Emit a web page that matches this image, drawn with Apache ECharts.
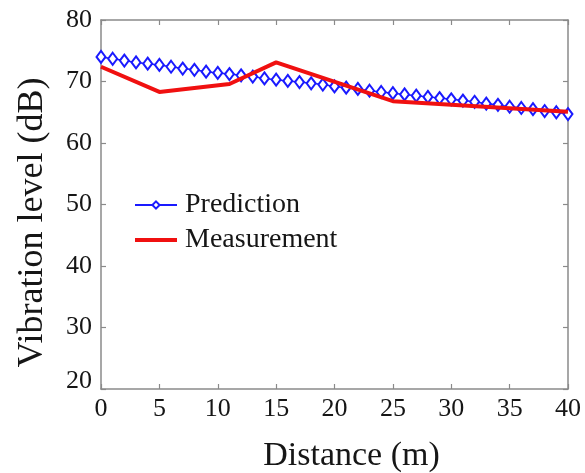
<!DOCTYPE html>
<html>
<head>
<meta charset="utf-8">
<script src="https://cdn.jsdelivr.net/npm/echarts@6/dist/echarts.min.js"></script>
<style>
  html, body { margin: 0; padding: 0; background: #fff; }
  #chart { width: 585px; height: 473px; }
</style>
</head>
<body>
<div id="chart"></div>
<script>
// Distance along the track (m)
const predictionDistance = [0, 1, 2, 3, 4, 5, 6, 7, 8, 9, 10, 11, 12, 13, 14, 15, 16, 17, 18, 19, 20,
  21, 22, 23, 24, 25, 26, 27, 28, 29, 30, 31, 32, 33, 34, 35, 36, 37, 38, 39, 40];
// Predicted vibration level (dB)
const predictionLevel = [74.0, 73.7, 73.4, 73.1, 72.9, 72.7, 72.4, 72.1, 71.9, 71.6, 71.4,
  71.2, 71.0, 70.8, 70.5, 70.3, 70.1, 69.9, 69.7, 69.5, 69.2,
  69.0, 68.8, 68.5, 68.3, 68.1, 67.9, 67.7, 67.5, 67.3, 67.1,
  66.9, 66.7, 66.4, 66.2, 65.9, 65.7, 65.5, 65.2, 65.0, 64.7];
// Measured vibration level (dB)
const measurementDistance = [0, 5, 11, 15, 25, 40];
const measurementLevel = [72.4, 68.3, 69.6, 73.1, 66.8, 65.1];

const xTicks = { min: 0, max: 40, interval: 5 };
const yTicks = { min: 20, max: 80, interval: 10 };

const FONT = "'Liberation Serif', 'Times New Roman', serif";
const AXIS_GRAY = '#8a8a8a';
const TEXT = '#161616';
const BLUE = '#1a1aff';
const RED = '#f01010';

const zip = (xs, ys) => xs.map((x, i) => [x, ys[i]]);

const chart = echarts.init(document.getElementById('chart'), null, { renderer: 'canvas' });

// Boxed frame: every side carries a gray line with inward ticks
const boxAxis = (extra) => Object.assign({
  type: 'value',
  axisLine: { show: true, onZero: false, lineStyle: { color: AXIS_GRAY, width: 1.5 } },
  axisTick: { show: true, inside: true, length: 5, lineStyle: { color: AXIS_GRAY, width: 1.2 } },
  splitLine: { show: false }
}, extra);

chart.setOption({
  animation: false,
  backgroundColor: '#fff',
  grid: { left: 101, top: 20, right: 17, bottom: 84, containLabel: false, outerBoundsMode: 'none' },
  legend: {
    orient: 'vertical',
    left: 128,
    top: 186,
    itemWidth: 42,
    itemHeight: 9,
    itemGap: 7,
    textStyle: { fontFamily: FONT, fontSize: 28, color: TEXT, padding: [0, 0, 0, 3] },
    data: [
      { name: 'Prediction' },
      // plain thick line key, no point symbol
      {
        name: 'Measurement',
        itemStyle: { color: 'transparent', borderWidth: 0, opacity: 0 },
        lineStyle: { color: RED, width: 4 }
      }
    ]
  },
  xAxis: [
    boxAxis(Object.assign({}, xTicks, {
      position: 'bottom',
      name: 'Distance (m)',
      nameLocation: 'middle',
      nameGap: 50,
      nameTextStyle: { fontFamily: FONT, fontSize: 34, color: TEXT, padding: [0, 0, 0, 34] },
      axisLabel: { fontFamily: FONT, fontSize: 26, color: TEXT, margin: 7 }
    })),
    boxAxis(Object.assign({}, xTicks, { position: 'top', axisLabel: { show: false } }))
  ],
  yAxis: [
    boxAxis(Object.assign({}, yTicks, {
      position: 'left',
      name: 'Vibration level (dB)',
      nameLocation: 'middle',
      nameGap: 50,
      nameTextStyle: { fontFamily: FONT, fontSize: 36, color: TEXT, padding: [0, 36, 0, 0] },
      axisLabel: {
        fontFamily: FONT, fontSize: 26, color: TEXT, margin: 9,
        formatter: (v) => (v === yTicks.min ? '{low|' + v + '}' : String(v)),
        rich: { low: { fontFamily: FONT, fontSize: 26, color: TEXT, padding: [0, 0, 16, 0] } }
      }
    })),
    boxAxis(Object.assign({}, yTicks, { position: 'right', axisLabel: { show: false } }))
  ],
  series: [
    {
      name: 'Prediction',
      type: 'line',
      data: zip(predictionDistance, predictionLevel),
      symbol: 'diamond',
      symbolSize: [9, 12],
      lineStyle: { color: BLUE, width: 1.5 },
      itemStyle: { color: '#ffffff', borderColor: BLUE, borderWidth: 2 },
      z: 2
    },
    {
      name: 'Measurement',
      type: 'line',
      data: zip(measurementDistance, measurementLevel),
      symbol: 'none',
      lineStyle: { color: RED, width: 4 },
      itemStyle: { color: RED },
      z: 3
    }
  ]
});
</script>
</body>
</html>
